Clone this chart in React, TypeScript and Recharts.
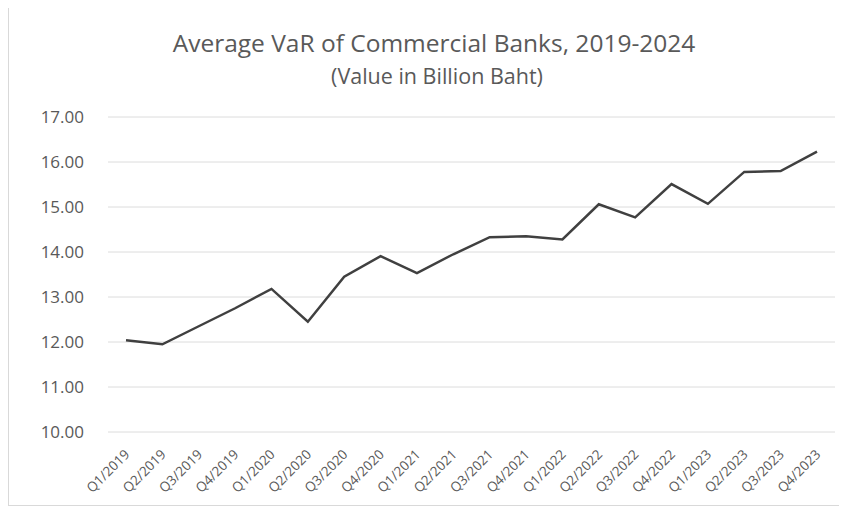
import React from 'react';
import { LineChart, Line, XAxis, YAxis, CartesianGrid } from 'recharts';

const quarters = [
    'Q1/2019', 'Q2/2019', 'Q3/2019', 'Q4/2019',
    'Q1/2020', 'Q2/2020', 'Q3/2020', 'Q4/2020',
    'Q1/2021', 'Q2/2021', 'Q3/2021', 'Q4/2021',
    'Q1/2022', 'Q2/2022', 'Q3/2022', 'Q4/2022',
    'Q1/2023', 'Q2/2023', 'Q3/2023', 'Q4/2023'
];

const varValues = [
    12.04, 11.95, 12.35, 12.75,
    13.18, 12.45, 13.45, 13.91,
    13.53, 13.95, 14.33, 14.35,
    14.28, 15.06, 14.77, 15.51,
    15.07, 15.78, 15.80, 16.23
];

const yTicks = [10, 11, 12, 13, 14, 15, 16, 17];

const chartData = quarters.map((q, i) => ({ name: q, value: varValues[i] }));

const FONT = '"Open Sans", "Liberation Sans", sans-serif';
const GRAY = '#595959';

const QuarterTick = (props: any) => {
    const { x, y, payload } = props;
    return (
        <g transform={`translate(${x + 1},${y + 12}) rotate(-45)`}>
            <text x={0} y={0} dy="0.35em" textAnchor="end" fill={GRAY} fontSize={13.5} fontFamily={FONT}>
                {payload.value}
            </text>
        </g>
    );
};

const App: React.FC = () => {
    return (
        <div style={{
            position: 'relative',
            width: 838,
            height: 499,
            marginTop: -3,
            borderTop: '1px solid #d9d9d9',
            borderLeft: '1px solid #d9d9d9',
            borderBottom: '1px solid #d9d9d9',
            background: '#fff'
        }}>
            <div style={{
                position: 'absolute', left: 0, width: 850, top: 20, textAlign: 'center',
                fontFamily: FONT, fontSize: 24.5, color: GRAY, lineHeight: '34px'
            }}>
                Average VaR of Commercial Banks, 2019-2024
            </div>
            <div style={{
                position: 'absolute', left: 0, width: 856, top: 55, textAlign: 'center',
                fontFamily: FONT, fontSize: 21.5, color: GRAY, lineHeight: '30px'
            }}>
                (Value in Billion Baht)
            </div>
            <div style={{ position: 'absolute', left: -1, top: -1 }}>
                <LineChart width={839} height={500} data={chartData} margin={{ top: 112, right: 12, left: 0, bottom: 0 }}>
                    <CartesianGrid vertical={false} stroke="#dcdcdc" />
                    <XAxis
                        dataKey="name"
                        axisLine={false}
                        tickLine={false}
                        interval={0}
                        height={73}
                        padding={{ left: 18, right: 18 }}
                        tick={<QuarterTick />}
                    />
                    <YAxis
                        domain={[10, 17]}
                        ticks={yTicks}
                        width={100}
                        axisLine={false}
                        tickLine={false}
                        tickSize={0}
                        tickMargin={24}
                        tickFormatter={(v: number) => v.toFixed(2)}
                        tick={{ fill: GRAY, fontSize: 17, fontFamily: FONT }}
                    />
                    <Line
                        type="linear"
                        dataKey="value"
                        stroke="#404040"
                        strokeWidth={2.5}
                        dot={false}
                        isAnimationActive={false}
                    />
                </LineChart>
            </div>
        </div>
    );
};

export default App;
